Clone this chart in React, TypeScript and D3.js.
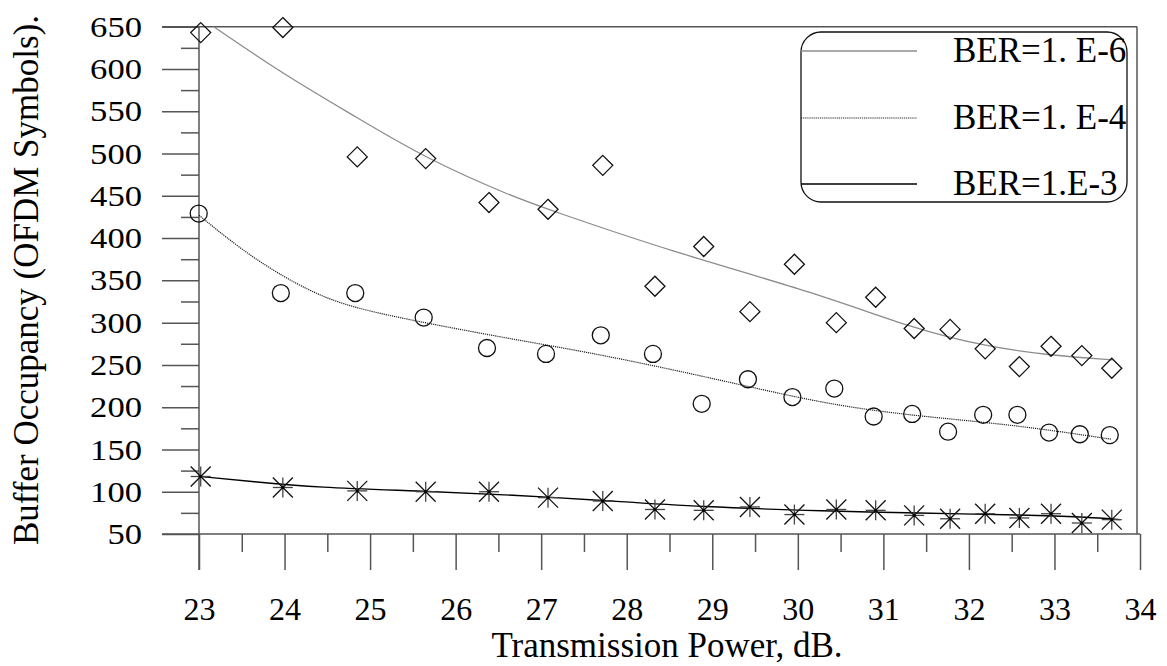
import React, { useEffect, useRef } from "react";
import * as d3 from "d3";

// transmission power (dB) of every measured point
const powerDb = [23.02, 23.98, 24.85, 25.65, 26.39, 27.08, 27.72, 28.33, 28.9, 29.44, 29.96, 30.45, 30.91, 31.36, 31.78, 32.19, 32.59, 32.96, 33.32, 33.67];
// buffer occupancy samples
const ber6 = [643, 649, 496, 494, 442, 434, 486, 343, 390, 313, 369, 300, 330, 293, 292, 269, 248, 272, 261, 246];
const ber4 = [429, 335, 335, 306, 270, 263, 285, 263, 204, 233, 212, 222, 189, 192, 171, 191, 191, 170, 168, 167];
const ber3 = [118, 105, 101, 100, 100, 93, 89, 79, 78, 82, 73, 79, 78, 72, 68, 74, 69, 74, 63, 67];

// fitted trend curves
const fit6X = [23, 23.17, 24.0, 24.79, 25.65, 26.69, 27.08, 28.49, 30.22, 31.35, 32.19, 32.96, 33.68];
const fit6Y = [662, 650, 593, 546, 494, 448, 434, 385, 335, 293, 272, 261, 256];
const fit4X = [23, 23.62, 24.32, 24.82, 25.62, 26.69, 27.49, 28.47, 29.44, 30.38, 31.33, 32.55, 33.67];
const fit4Y = [427, 376, 335, 317, 300, 280, 266, 246, 224, 203, 190, 179, 162];
const fit3X = [23.02, 23.62, 24.39, 25.56, 26.69, 27.69, 28.86, 30.38, 31.31, 32.87, 33.38, 33.77];
const fit3Y = [118, 112, 105, 101, 96, 90, 82, 77, 75, 72, 70, 67];

const xTicks = [23, 24, 25, 26, 27, 28, 29, 30, 31, 32, 33, 34];
const yTicks = [50, 100, 150, 200, 250, 300, 350, 400, 450, 500, 550, 600, 650];
const legendLabels = ["BER=1. E-6", "BER=1. E-4", "BER=1.E-3"];

const FONT = "Liberation Serif, Times New Roman, serif";

export default function App() {
  const ref = useRef<SVGSVGElement | null>(null);

  useEffect(() => {
    const svg = d3.select(ref.current);
    svg.selectAll("*").remove();

    const x = d3.scaleLinear().domain([23, 34]).range([199, 1140]);
    const y = d3.scaleLinear().domain([50, 650]).range([534, 26.7]);
    const axisColor = "#555";

    svg.append("defs").append("clipPath").attr("id", "plotclip")
      .append("rect").attr("x", 150).attr("y", y(650)).attr("width", 1000).attr("height", 520);

    // minor ticks
    const yMinor = yTicks.slice(0, -1).map((v) => v + 25);
    const xMinor = xTicks.slice(0, -1).map((v) => v + 0.5);

    const gyMinor = svg.append("g").attr("transform", "translate(199,0)")
      .call(d3.axisLeft(y).tickValues(yMinor).tickSize(18).tickSizeOuter(0).tickFormat(() => ""));
    const gy = svg.append("g").attr("transform", "translate(199,0)")
      .call(d3.axisLeft(y).tickValues(yTicks).tickSize(37).tickSizeOuter(0).tickPadding(20));
    const gxMinor = svg.append("g").attr("transform", "translate(0,534)")
      .call(d3.axisBottom(x).tickValues(xMinor).tickSize(18).tickSizeOuter(0).tickFormat(() => ""));
    const gx = svg.append("g").attr("transform", "translate(0,534)")
      .call(d3.axisBottom(x).tickValues(xTicks).tickSize(36).tickSizeOuter(0).tickPadding(27));

    [gyMinor, gy, gxMinor, gx].forEach((g) => {
      g.attr("font-family", FONT);
      g.select(".domain").remove();
      g.selectAll("line").attr("stroke", axisColor).attr("stroke-width", 1.5);
    });
    gy.attr("font-size", 30);
    gy.selectAll("text")
      .attr("fill", "#000")
      .attr("textLength", (d: any) => String(d).length * 17.3)
      .attr("lengthAdjust", "spacingAndGlyphs");
    gx.attr("font-size", 32);
    gx.selectAll("text").attr("fill", "#000");

    // frame lines
    const frame = svg.append("g").attr("stroke", axisColor).attr("stroke-width", 1.5);
    frame.append("line").attr("x1", 162).attr("x2", 1137).attr("y1", y(650)).attr("y2", y(650));
    frame.append("line").attr("x1", 162).attr("x2", 1140).attr("y1", 534).attr("y2", 534);
    frame.append("line").attr("x1", 199).attr("x2", 199).attr("y1", y(650)).attr("y2", 570);
    frame.append("line").attr("x1", 1137).attr("x2", 1137).attr("y1", y(650)).attr("y2", 534);

    // fitted curves
    const line = d3.line<[number, number]>()
      .x((d) => x(d[0])).y((d) => y(d[1])).curve(d3.curveBasis);
    const curves = [
      { xs: fit6X, ys: fit6Y, stroke: "#8c8c8c", width: 1.3, dash: null },
      { xs: fit4X, ys: fit4Y, stroke: "#222", width: 1.2, dash: "1.2,0.9" },
      { xs: fit3X, ys: fit3Y, stroke: "#000", width: 1.4, dash: null },
    ];
    const lines = svg.append("g").attr("clip-path", "url(#plotclip)");
    curves.forEach((c) => {
      const pts = c.xs.map((v, i) => [v, c.ys[i]] as [number, number]);
      lines.append("path").attr("d", line(pts)).attr("fill", "none")
        .attr("stroke", c.stroke).attr("stroke-width", c.width)
        .attr("stroke-dasharray", c.dash);
    });

    // markers
    const marks = svg.append("g").attr("fill", "none").attr("stroke", "#111").attr("stroke-width", 1.3);
    powerDb.forEach((p, i) => {
      const cx = x(p), cy = y(ber6[i]);
      marks.append("path").attr("d", `M${cx},${cy - 10}L${cx + 10},${cy}L${cx},${cy + 10}L${cx - 10},${cy}Z`);
    });
    powerDb.forEach((p, i) => {
      marks.append("circle").attr("cx", x(p) - 2).attr("cy", y(ber4[i])).attr("r", 8.5);
    });
    powerDb.forEach((p, i) => {
      const cx = x(p), cy = y(ber3[i]);
      const g = marks.append("g");
      g.append("line").attr("x1", cx - 10).attr("x2", cx + 10).attr("y1", cy).attr("y2", cy).attr("stroke", "#444");
      g.append("line").attr("x1", cx).attr("x2", cx).attr("y1", cy - 10).attr("y2", cy + 10).attr("stroke", "#444");
      g.append("line").attr("x1", cx - 10).attr("x2", cx + 10).attr("y1", cy - 10).attr("y2", cy + 10);
      g.append("line").attr("x1", cx - 10).attr("x2", cx + 10).attr("y1", cy + 10).attr("y2", cy - 10);
      g.append("circle").attr("cx", cx).attr("cy", cy).attr("r", 1.5).attr("fill", "#000").attr("stroke", "none");
    });

    // legend
    const lg = svg.append("g");
    lg.append("rect").attr("x", 801).attr("y", 32).attr("width", 326).attr("height", 170)
      .attr("rx", 20).attr("fill", "none").attr("stroke", "#111").attr("stroke-width", 1.3);
    const legendY = [51, 118, 184];
    legendLabels.forEach((label, i) => {
      const c = curves[i];
      lg.append("line").attr("x1", 801).attr("x2", 917).attr("y1", legendY[i]).attr("y2", legendY[i])
        .attr("stroke", c.stroke).attr("stroke-width", c.width).attr("stroke-dasharray", c.dash);
      lg.append("text").attr("x", 953).attr("y", legendY[i] + 11)
        .attr("font-family", FONT).attr("font-size", 35).text(label);
    });

    // axis titles
    svg.append("text").attr("x", 667).attr("y", 657).attr("text-anchor", "middle")
      .attr("font-family", FONT).attr("font-size", 35).text("Transmission Power, dB.");
    svg.append("text").attr("transform", "translate(38,280) rotate(-90)").attr("text-anchor", "middle")
      .attr("font-family", FONT).attr("font-size", 35).text("Buffer Occupancy (OFDM Symbols).");
  }, []);

  return (
    <svg ref={ref} width={1167} height={666}
      style={{ position: "absolute", left: 0, top: 0, background: "#fff" }} />
  );
}
